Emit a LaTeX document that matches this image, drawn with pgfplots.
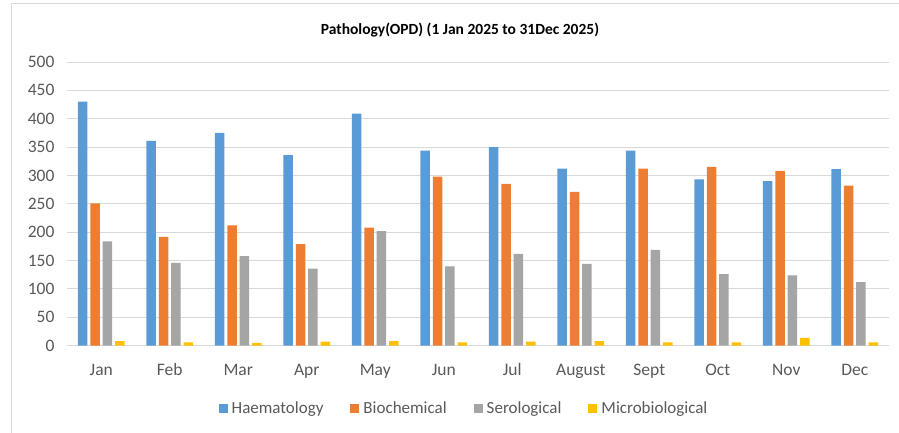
\documentclass[border=0pt]{standalone}
\usepackage{pgfplots}
\pgfplotsset{compat=1.18}
\usepackage{fontspec}
\setmainfont{Carlito}
\definecolor{cH}{HTML}{5B9BD5}
\definecolor{cB}{HTML}{ED7D31}
\definecolor{cS}{HTML}{A5A5A5}
\definecolor{cM}{HTML}{FFC000}
\definecolor{gridc}{HTML}{D9D9D9}
\definecolor{txt}{HTML}{595959}
\begin{document}
\begin{tikzpicture}[x=1pt,y=1pt]
\path[use as bounding box] (0,0) rectangle (899,-433);
\draw[gridc, line width=1pt] (11,-433) -- (11,-4) -- (899,-4);
\node[font=\fontsize{15.5}{18}\selectfont\bfseries, text=black] at (460,-30) {Pathology(OPD) (1 Jan 2025 to 31Dec 2025)};
\begin{axis}[
  at={(67pt,-345.7pt)}, anchor=south west,
  scale only axis, width=822pt, height=283.7pt,
  xmin=-0.5, xmax=11.5, ymin=0, ymax=500,
  ytick={0,50,...,500},
  xtick={0,...,11},
  xticklabels={Jan,Feb,Mar,Apr,May,Jun,Jul,August,Sept,Oct,Nov,Dec},
  axis line style={draw=none},
  major tick length=0pt,
  ymajorgrids, grid style={gridc, line width=1pt},
  /pgf/number format/assume math mode=true,
  tick label style={font=\fontsize{17.5}{20}\selectfont, text=txt},
  yticklabel style={xshift=-9pt},
  xticklabel style={anchor=north, text height=12pt, text depth=4pt, yshift=-14pt},
  ybar, bar width=0.139,
  legend style={at={(0.483,-0.2196)}, anchor=center, draw=none, fill=none,
    legend columns=-1, font=\fontsize{17pt}{20pt}\selectfont, text=txt,
    /tikz/every even column/.append style={column sep=25pt}},
  legend image code/.code={\fill[#1] (0pt,-4.5pt) rectangle (9pt,4.5pt); \path (11pt,0pt);},
  every axis plot/.append style={draw=none},
]
\addplot[fill=cH, bar shift=-0.271] coordinates {(0,430) (1,361) (2,375) (3,336) (4,409) (5,344) (6,350) (7,312) (8,344) (9,293) (10,290) (11,311)};
\addplot[fill=cB, bar shift=-0.09] coordinates {(0,251) (1,192) (2,212) (3,179) (4,208) (5,298) (6,285) (7,271) (8,312) (9,315) (10,308) (11,282)};
\addplot[fill=cS, bar shift=0.09] coordinates {(0,184) (1,146) (2,158) (3,136) (4,202) (5,140) (6,162) (7,144) (8,169) (9,126) (10,124) (11,112)};
\addplot[fill=cM, bar shift=0.271] coordinates {(0,8) (1,6) (2,5) (3,7) (4,8) (5,6) (6,7) (7,8) (8,6) (9,6) (10,14) (11,6)};
\legend{Haematology,Biochemical,Serological,Microbiological}
\end{axis}
\end{tikzpicture}
\end{document}
